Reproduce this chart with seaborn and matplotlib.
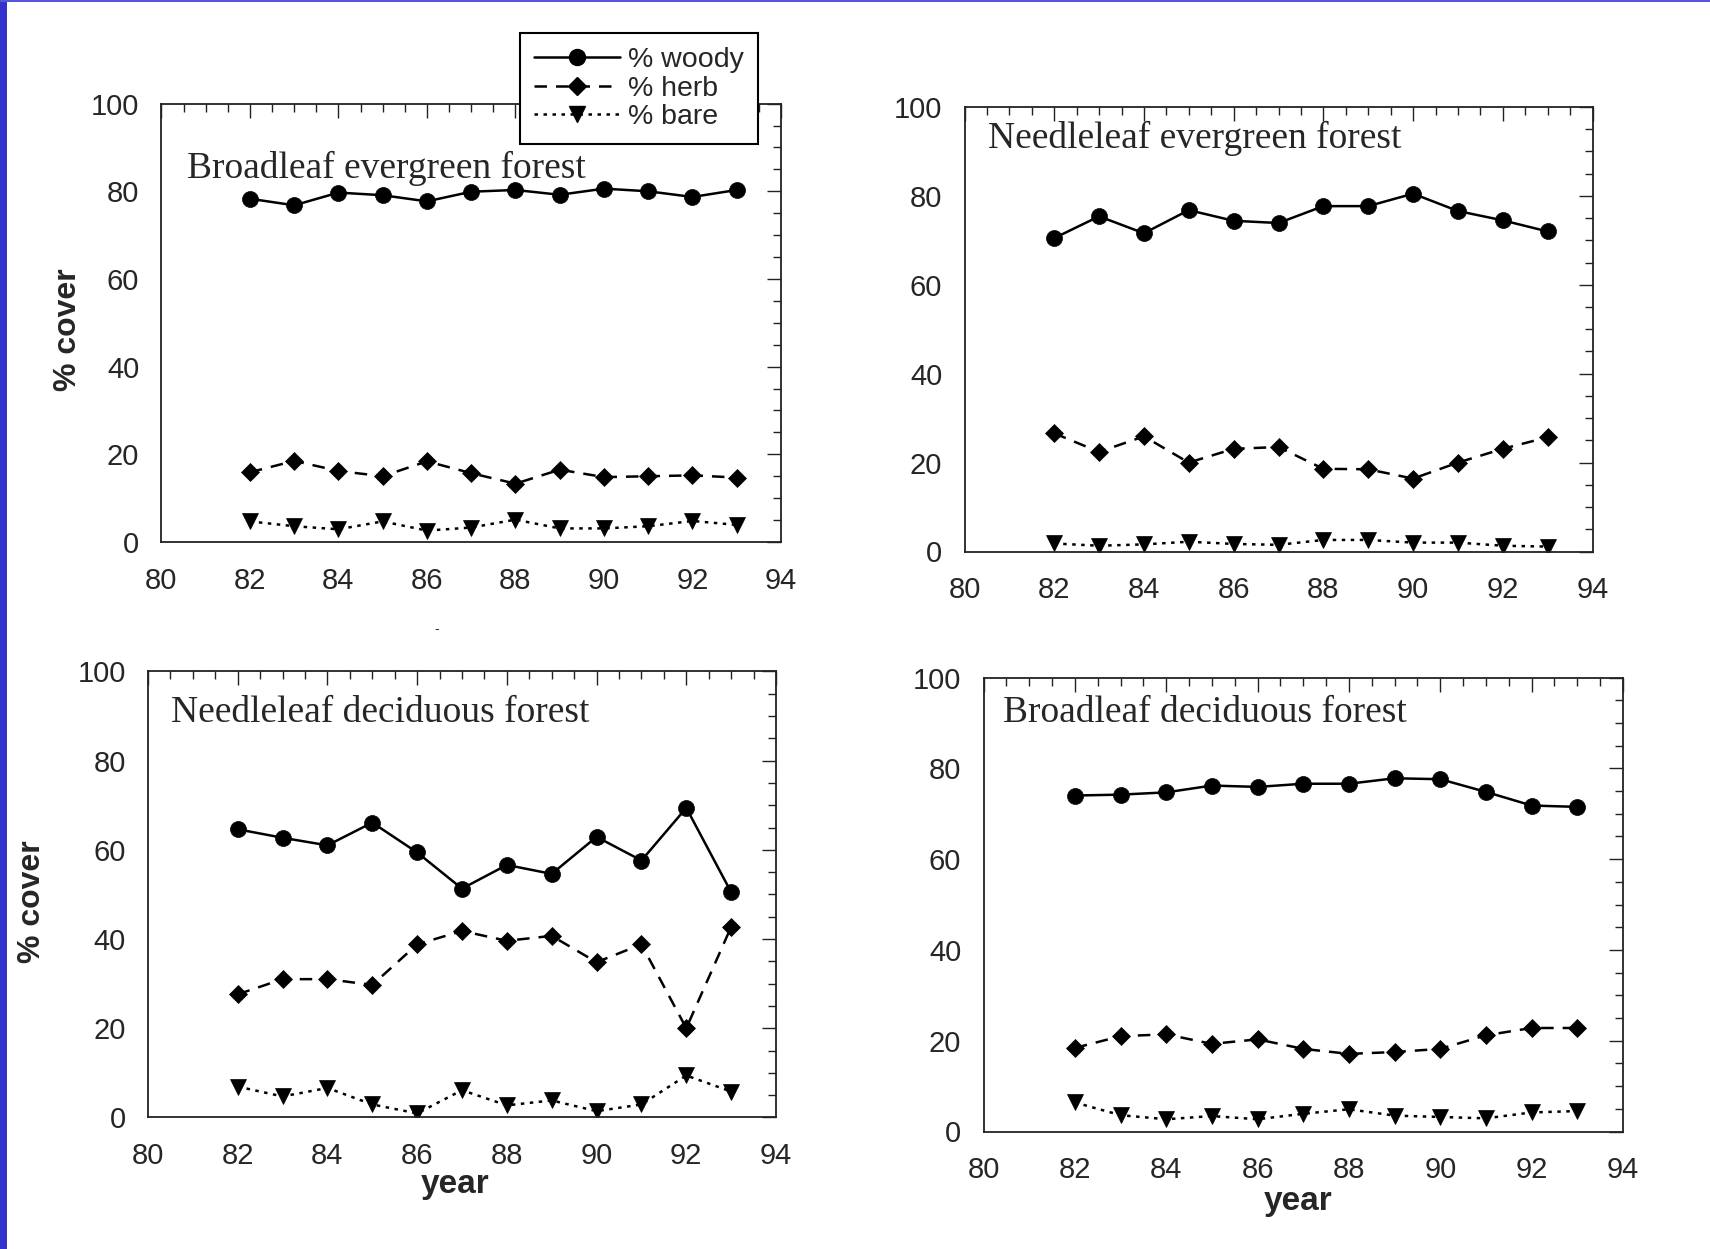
import matplotlib
matplotlib.use("Agg")
import matplotlib.pyplot as plt
import seaborn as sns
import pandas as pd
from matplotlib.ticker import MultipleLocator
from matplotlib.lines import Line2D
from matplotlib.patches import Rectangle

# ---------------- data ----------------
years = [82, 83, 84, 85, 86, 87, 88, 89, 90, 91, 92, 93]

bef_woody = [78.3, 76.8, 79.7, 79.1, 77.7, 79.9, 80.3, 79.2, 80.6, 80.0, 78.7, 80.3]
bef_herb = [15.9, 18.5, 16.2, 15.0, 18.4, 15.7, 13.3, 16.5, 14.8, 15.0, 15.2, 14.7]
bef_bare = [4.7, 3.6, 2.9, 4.7, 2.6, 3.3, 5.1, 3.1, 3.1, 3.6, 4.8, 3.9]

nef_woody = [70.5, 75.4, 71.6, 76.8, 74.4, 73.9, 77.7, 77.7, 80.5, 76.6, 74.5, 72.0]
nef_herb = [26.6, 22.4, 25.9, 20.0, 23.1, 23.5, 18.6, 18.5, 16.4, 20.0, 23.1, 25.7]
nef_bare = [1.8, 1.3, 1.6, 2.2, 1.7, 1.5, 2.6, 2.6, 2.0, 2.0, 1.3, 1.1]

ndf_woody = [64.6, 62.7, 61.0, 66.1, 59.4, 51.3, 56.6, 54.6, 62.9, 57.6, 69.4, 50.5]
ndf_herb = [27.6, 31.0, 31.0, 29.7, 38.8, 41.8, 39.6, 40.7, 34.8, 38.8, 20.0, 42.7]
ndf_bare = [6.9, 4.7, 6.6, 2.9, 0.9, 6.1, 2.7, 3.8, 1.4, 2.9, 9.4, 5.8]

bdf_woody = [74.0, 74.2, 74.7, 76.2, 75.9, 76.6, 76.6, 77.8, 77.6, 74.8, 71.8, 71.5]
bdf_herb = [18.4, 21.0, 21.4, 19.3, 20.3, 18.2, 17.1, 17.5, 18.2, 21.2, 22.8, 22.8]
bdf_bare = [6.4, 3.6, 2.7, 3.4, 2.7, 3.9, 4.9, 3.5, 3.2, 2.9, 4.2, 4.5]

panel_titles = ["Broadleaf evergreen forest", "Needleleaf evergreen forest",
                "Needleleaf deciduous forest", "Broadleaf deciduous forest"]
series_labels = ["% woody", "% herb", "% bare"]
x_ticks = [80, 82, 84, 86, 88, 90, 92, 94]
y_ticks = [0, 20, 40, 60, 80, 100]
y_label = "% cover"
x_label = "year"

panels = [
    (bef_woody, bef_herb, bef_bare),
    (nef_woody, nef_herb, nef_bare),
    (ndf_woody, ndf_herb, ndf_bare),
    (bdf_woody, bdf_herb, bdf_bare),
]

# ---------------- style ----------------
sns.set_style("white")
plt.rcParams["font.family"] = ["Liberation Sans", "DejaVu Sans"]

W, H = 1710, 1249
fig = plt.figure(figsize=(W / 100, H / 100), dpi=100)
fig.patch.set_facecolor("white")

# blue frame of the slide
fig.add_artist(Rectangle((0, 0), 7 / W, 1, transform=fig.transFigure,
                         color="#3333CC", lw=0, zorder=10))
fig.add_artist(Rectangle((0, 1 - 2 / H), 1, 2 / H, transform=fig.transFigure,
                         color="#5555DD", lw=0, zorder=10))

# axes rectangles in pixels: left, top, right, bottom
rects_px = [
    (161.4, 103.6, 781.0, 542.0),
    (964.5, 107.0, 1592.5, 551.5),
    (148.0, 671.4, 776.0, 1117.4),
    (983.5, 677.5, 1623.0, 1131.5),
]
title_pos = [(80.58, 83.0), (80.52, 90.7), (80.52, 88.7), (80.43, 90.2)]

LW = 1.8
styles = [
    dict(linestyle="-", marker="o", markersize=11.5),
    dict(linestyle=(0, (5.0, 3.6)), marker="D", markersize=9),
    dict(linestyle=(0, (1.4, 2.2)), marker="v", markersize=12),
]

for i, (rect, data) in enumerate(zip(rects_px, panels)):
    l, t, r, b = rect
    ax = fig.add_axes([l / W, 1 - b / H, (r - l) / W, (b - t) / H])
    for vals, st in zip(data, styles):
        df = pd.DataFrame({"year": years, "cover": vals})
        sns.lineplot(data=df, x="year", y="cover", ax=ax, color="black",
                     linewidth=LW, markeredgecolor="black", markeredgewidth=0.5,
                     legend=False, **st)
    ax.set_xlim(80, 94)
    ax.set_ylim(0, 100)
    ax.set_xticks(x_ticks)
    ax.set_yticks(y_ticks)
    ax.xaxis.set_minor_locator(MultipleLocator(0.5))
    ax.yaxis.set_minor_locator(MultipleLocator(5))
    ax.tick_params(which="both", direction="in", top=True, right=True,
                   color="#222222", width=1.0)
    ax.tick_params(which="major", length=10)
    ax.tick_params(which="minor", length=5.5)
    ax.tick_params(axis="x", which="major", pad=18, labelsize=21)
    ax.tick_params(axis="y", which="major", pad=16, labelsize=21)
    for sp in ax.spines.values():
        sp.set_color("#222222")
        sp.set_linewidth(1.3)
    ax.set_xlabel("")
    ax.set_ylabel("")
    tx, ty = title_pos[i]
    ax.text(tx, ty, panel_titles[i], fontsize=27, va="baseline", ha="left",
            family=["Liberation Serif", "DejaVu Serif"])

# axis labels
fig.text(68 / W, 1 - 330 / H, y_label, rotation=90, fontsize=23,
         fontweight="bold", ha="center", va="center")
fig.text(32 / W, 1 - 902 / H, y_label, rotation=90, fontsize=23,
         fontweight="bold", ha="center", va="center")
fig.text(455.5 / W, 1 - 1192.7 / H, x_label, fontsize=24, fontweight="bold",
         ha="center", va="baseline")
fig.text(1298 / W, 1 - 1210 / H, x_label, fontsize=24, fontweight="bold",
         ha="center", va="baseline")

# small stray mark in the original
fig.text(437 / W, 1 - 629 / H, "-", fontsize=10, ha="center", va="center")

# legend
handles = [Line2D([], [], color="black", linewidth=LW, **st) for st in styles]
leg = fig.legend(handles, series_labels, loc="upper left",
                 bbox_to_anchor=(520 / W, 1 - 33 / H),
                 bbox_transform=fig.transFigure, fontsize=20.5, frameon=True,
                 fancybox=False, framealpha=1, edgecolor="black",
                 handlelength=3.0, handletextpad=0.3, labelspacing=0.08,
                 borderpad=0.5, borderaxespad=0)
leg.get_frame().set_linewidth(1.5)

fig.savefig("out.png", dpi=100, facecolor="white")
